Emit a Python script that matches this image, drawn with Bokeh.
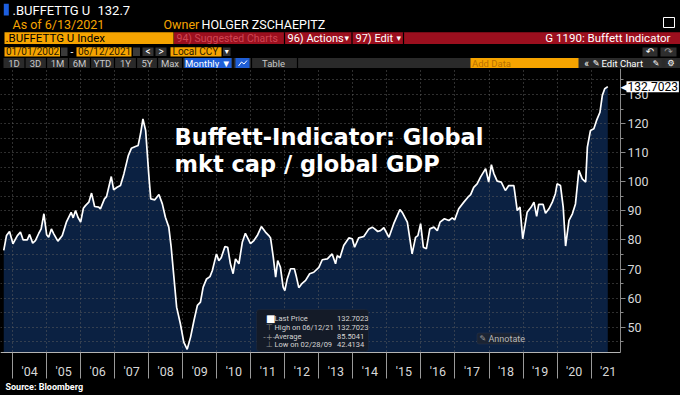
from bokeh.plotting import figure
from bokeh.models import Range1d, FixedTicker, Label, BoxAnnotation, LinearAxis
from bokeh.layouts import column
from bokeh.core.properties import value
from bokeh.embed import file_html
from bokeh.resources import INLINE

# ---------------- data ----------------
years = [
    2003.74, 2003.82, 2003.91, 2004.01, 2004.14, 2004.23, 2004.31, 2004.43, 2004.50, 2004.59,
    2004.67, 2004.77, 2004.84, 2004.92, 2005.00, 2005.06, 2005.14, 2005.21, 2005.33, 2005.46,
    2005.58, 2005.72, 2005.78, 2005.85, 2005.92, 2006.00, 2006.08, 2006.14, 2006.24, 2006.32,
    2006.41, 2006.53, 2006.58, 2006.70, 2006.76, 2006.90, 2006.97, 2007.07, 2007.17, 2007.27,
    2007.40, 2007.49, 2007.61, 2007.69, 2007.76, 2007.83, 2007.91, 2008.00, 2008.06, 2008.18,
    2008.30, 2008.40, 2008.49, 2008.59, 2008.66, 2008.74, 2008.82, 2008.93, 2009.03, 2009.13,
    2009.23, 2009.33, 2009.43, 2009.52, 2009.60, 2009.70, 2009.80, 2009.87, 2009.99, 2010.06,
    2010.13, 2010.24, 2010.32, 2010.40, 2010.48, 2010.55, 2010.65, 2010.75, 2010.84, 2010.99,
    2011.09, 2011.19, 2011.31, 2011.43, 2011.53, 2011.58, 2011.66, 2011.73, 2011.79, 2011.87,
    2011.95, 2012.00, 2012.07, 2012.17, 2012.28, 2012.33, 2012.41, 2012.51, 2012.61, 2012.73,
    2012.85, 2013.00, 2013.10, 2013.25, 2013.34, 2013.39, 2013.49, 2013.54, 2013.62, 2013.73,
    2013.88, 2013.98, 2014.05, 2014.17, 2014.32, 2014.47, 2014.57, 2014.64, 2014.73, 2014.81,
    2014.91, 2015.06, 2015.20, 2015.38, 2015.45, 2015.60, 2015.74, 2015.84, 2015.91, 2015.99,
    2016.07, 2016.16, 2016.26, 2016.38, 2016.48, 2016.56, 2016.69, 2016.82, 2016.92, 2016.99,
    2017.11, 2017.26, 2017.38, 2017.46, 2017.55, 2017.65, 2017.75, 2017.90, 2017.99, 2018.07,
    2018.14, 2018.24, 2018.36, 2018.48, 2018.58, 2018.73, 2018.83, 2018.91, 2018.99, 2019.12,
    2019.24, 2019.32, 2019.40, 2019.46, 2019.59, 2019.66, 2019.76, 2019.86, 2019.95, 2020.00,
    2020.10, 2020.18, 2020.25, 2020.35, 2020.45, 2020.54, 2020.64, 2020.74, 2020.84, 2020.89,
    2020.98, 2021.08, 2021.16, 2021.26, 2021.33, 2021.40, 2021.49,
]
index_values = [
    76.4, 81.5, 82.9, 78.7, 81.5, 82.7, 80.0, 80.0, 81.9, 78.9,
    79.8, 82.3, 83.8, 89.0, 81.8, 80.9, 83.8, 82.1, 79.6, 81.5,
    86.1, 89.5, 87.6, 90.1, 87.8, 86.1, 90.9, 91.8, 93.0, 96.1,
    91.5, 91.3, 90.7, 94.1, 94.9, 101.8, 97.2, 98.1, 98.7, 102.7,
    109.0, 111.5, 112.1, 112.5, 116.5, 121.6, 117.6, 102.7, 94.1, 93.8,
    95.6, 92.4, 87.8, 84.4, 77.5, 67.2, 56.9, 51.2, 44.9, 42.4,
    46.6, 52.3, 57.5, 58.6, 63.8, 66.6, 67.4, 69.5, 75.2, 72.9,
    73.9, 77.7, 77.5, 71.8, 68.4, 73.5, 71.8, 79.2, 82.3, 78.7,
    79.8, 81.5, 84.6, 82.7, 81.5, 80.7, 74.1, 67.2, 72.9, 70.6,
    63.8, 62.6, 66.6, 70.1, 70.1, 67.8, 63.6, 65.1, 66.1, 68.4,
    68.9, 70.6, 73.2, 73.5, 74.6, 75.2, 71.8, 74.6, 73.9, 78.1,
    80.7, 80.4, 77.5, 80.7, 81.2, 83.8, 84.4, 83.8, 82.9, 83.2,
    84.2, 80.9, 85.6, 90.4, 89.5, 86.1, 75.2, 80.9, 81.5, 85.6,
    77.5, 77.0, 83.8, 84.4, 83.2, 86.1, 87.3, 86.7, 87.6, 86.9,
    90.7, 93.0, 94.7, 95.6, 98.1, 99.3, 101.6, 104.5, 99.9, 105.9,
    102.9, 100.2, 99.9, 97.0, 98.7, 98.7, 90.1, 91.3, 80.4, 89.5,
    91.3, 93.0, 88.1, 92.2, 92.2, 89.2, 90.7, 93.0, 95.9, 99.3,
    98.7, 91.3, 77.9, 86.7, 89.0, 92.4, 103.9, 101.0, 99.9, 111.9,
    117.6, 118.2, 121.1, 123.9, 129.7, 132.0, 132.7,
]
year_ticks = list(range(2004, 2022))
year_labels = ["'04", "'05", "'06", "'07", "'08", "'09", "'10", "'11", "'12",
               "'13", "'14", "'15", "'16", "'17", "'18", "'19", "'20", "'21"]
y_major = [50, 60, 70, 80, 90, 100, 110, 120, 130]
y_minor = [45, 50, 55, 60, 65, 70, 75, 80, 85, 90, 95, 100, 105, 110, 115, 120, 125, 130, 135]

last_price = 132.7023
high_value, high_date = 132.7023, "06/12/21"
average_value = 85.5041
low_value, low_date = 42.4134, "02/28/09"

# ---------------- layout constants (page pixels) ----------------
W, H = 680, 395
HEADER_H = 68
MAIN_H = H - HEADER_H

BG = "#000000"
ORANGE = "#f6a400"
RED = "#9b0f1e"
NAVY = "#0b2142"
GRID = "#5e5e5e"
TXT = "#d8d8d8"
FONT = "Roboto"


def rx(px):  # page pixel -> year
    return 2004 + (px - 12.1) / 34.03


def ry(py):  # page pixel -> value
    return 130 - (py - 94) / 2.909


X_START, X_AXIS, X_END = rx(0), rx(620), rx(W)
Y_BOTTOM, Y_BASE, Y_END = ry(H), ry(352), ry(HEADER_H)

# ---------------- header ----------------
h = figure(width=W, height=HEADER_H, x_range=Range1d(0, W), y_range=Range1d(HEADER_H, 0),
           x_axis_type=None, y_axis_type=None, output_backend="svg", toolbar_location=None,
           min_border=0, background_fill_color=BG, border_fill_color=BG, outline_line_color=None)
h.xgrid.visible = False
h.ygrid.visible = False


def hbox(x0, x1, y0, y1, color, line=None):
    h.quad(left=[x0], right=[x1], top=[y0], bottom=[y1], fill_color=color, line_color=line)


def htext(x, y, s, color, size="12px", style="normal", align="left", font=FONT):
    h.text(x=[x], y=[y], text=[s], text_color=color, text_font_size=size,
           text_font=value(font), text_font_style=style, text_align=align,
           text_baseline="middle")


# row 1
hbox(3.3, 8.3, 3.3, 15, "#1d5fe0")
htext(12, 9.5, ".BUFFETTG U", "white", "13px")
htext(97, 9.5, "132.7", "white", "13px")
# row 2
htext(12, 24, "As of 6/13/2021", ORANGE, "12.5px")
htext(163, 24, "Owner", ORANGE, "12.5px")
htext(201, 24, "HOLGER ZSCHAEPITZ", "white", "12.5px")
hbox(663, 674, 17, 27, BG, "white")
# row 3
hbox(4, 173, 31.7, 43.5, ORANGE)
htext(5, 37.8, ".BUFFETTG U Index", "black", "11.5px")
hbox(173.5, W, 31.7, 43.5, RED)
for sx in (284, 351.5, 403):
    hbox(sx - 0.6, sx + 0.6, 31.7, 43.5, BG)
htext(176, 37.8, "94) Suggested Charts", "#cf4654", "10.5px")
htext(287, 37.8, "96) Actions", "white", "11px")
htext(344, 37.8, "\u25be", "white", "9px", font="DejaVu Sans")
htext(355, 37.8, "97) Edit", "white", "11px")
htext(396, 37.8, "\u25be", "white", "9px", font="DejaVu Sans")
htext(670, 37.8, "G 1190: Buffett Indicator", "white", "11.5px", align="right")
# row 4
hbox(4, 59.5, 46.7, 56, ORANGE)
htext(5.5, 51.4, "01/01/2002", "#2a1a00", "10px")
hbox(60.5, 67, 47, 55.5, "#3a3a3a")
htext(71.5, 51.4, "-", "white", "10px", align="center")
hbox(76, 131, 46.7, 56, ORANGE)
htext(77.5, 51.4, "06/12/2021", "#2a1a00", "10px")
hbox(132.5, 139.5, 47, 55.5, "#3a3a3a")
hbox(142, 153, 47, 55.5, "#333333")
htext(147.5, 51.4, "<", "white", "10px", align="center")
hbox(155, 166, 47, 55.5, "#333333")
htext(160.5, 51.4, ">", "white", "10px", align="center")
hbox(170, 221, 46.7, 56, ORANGE)
htext(172, 51.4, "Local CCY", "#2a1a00", "10px")
hbox(222.5, 230, 47, 55.5, "#333333")
htext(226.2, 51.4, "\u25be", "white", "8px", align="center", font="DejaVu Sans")
hbox(642, 657, 47, 56, "#2e2e2e")
htext(649.5, 51.4, "\u21b6", "white", "10px", align="center", font="DejaVu Sans")
hbox(660, 676, 47, 56, "#2e2e2e")
htext(668, 51.4, "\u21b7", "#9a9a9a", "10px", align="center", font="DejaVu Sans")
# row 5 toolbar
hbox(3, W, 57.5, 68, "#2a2a2a")
for sx in (24.5, 46, 68, 90, 114, 136, 157, 182, 232.5, 251, 297):
    hbox(sx - 0.6, sx + 0.6, 57.5, 68, BG)
for cx, lab in ((13.5, "1D"), (35, "3D"), (57, "1M"), (79, "6M"), (102, "YTD"),
                (125, "1Y"), (146.5, "5Y"), (169.5, "Max")):
    htext(cx, 62.5, lab, "#c8c8c8", "9.5px", align="center")
hbox(184, 231, 57.5, 68, "#1f5ed6")
htext(207.5, 62.5, "Monthly \u25bc", "white", "9.5px", align="center")
hbox(235, 249, 57.5, 68, "#1f5ed6")
h.line(x=[238, 241, 243.5, 246.5], y=[65.5, 61.5, 63.5, 60], line_color="white", line_width=1)
htext(273, 62.5, "Table", "#c8c8c8", "9.5px", align="center")
hbox(470, 578, 57.5, 68, ORANGE)
htext(471.5, 62.5, "Add Data", "#b87000", "9.5px")
htext(586, 62.5, "\u00ab", "white", "10px", align="center")
htext(592, 62.5, "\u270e", "white", "8.5px", font="DejaVu Sans")
htext(601, 62.5, "Edit Chart", "white", "9.5px")
hbox(650, 661, 58.5, 67, "#2e2e2e")
htext(655.5, 62.5, "\u270e", "white", "8px", align="center", font="DejaVu Sans")
hbox(665, 676, 58.5, 67, "#2e2e2e")
htext(670.5, 62.5, "\u2699", "white", "8.5px", align="center", font="DejaVu Sans")

# ---------------- main chart (frame fills the whole figure) ----------------
p = figure(width=W, height=MAIN_H, x_range=Range1d(X_START, X_END),
           y_range=Range1d(Y_BOTTOM, Y_END),
           y_axis_location="right", output_backend="svg", toolbar_location=None,
           min_border_left=0, min_border_right=0, min_border_top=0, min_border_bottom=0,
           background_fill_color=BG, border_fill_color=BG, outline_line_color=None)

area_r = p.varea(x=years, y1=Y_BASE, y2=index_values, fill_color=NAVY)
area_r.level = "image"
# masks keeping the dotted grid inside the plotting area
p.add_layout(BoxAnnotation(left=X_AXIS, fill_color=BG, fill_alpha=1, line_alpha=0, level="glyph"))
p.add_layout(BoxAnnotation(top=Y_BASE, fill_color=BG, fill_alpha=1, line_alpha=0, level="glyph"))
p.line(x=years, y=index_values, line_color="white", line_width=1.7)

# year labels centred in each year
xa = p.xaxis[0]
xa.fixed_location = Y_BASE
xa.bounds = (X_START, X_AXIS)
xa.ticker = FixedTicker(ticks=[y + 0.5 for y in year_ticks])
xa.major_label_overrides = {y + 0.5: lab for y, lab in zip(year_ticks, year_labels)}
xa.major_tick_line_color = None
xa.major_tick_out = 0
xa.major_tick_in = 0
xa.minor_tick_line_color = None
xa.minor_tick_out = 0
xa.minor_tick_in = 0
xa.axis_line_color = "#b4b4b4"
xa.major_label_text_color = TXT
xa.major_label_text_font = FONT
xa.major_label_text_font_size = "12.5px"
xa.major_label_standoff = 11

# separators at year starts hanging below the plotting area
sep = LinearAxis(fixed_location=Y_BASE, ticker=FixedTicker(ticks=year_ticks),
                 major_label_overrides={y: "" for y in year_ticks},
                 axis_line_color=None, major_tick_in=0, major_tick_out=26,
                 major_tick_line_color="#9a9a9a", major_tick_line_width=1,
                 minor_tick_line_color=None, minor_tick_in=0, minor_tick_out=0)
p.add_layout(sep, "below")

ya = p.yaxis[0]
ya.fixed_location = X_AXIS
ya.bounds = (Y_BASE, Y_END)
ya.ticker = FixedTicker(ticks=y_major, minor_ticks=y_minor)
ya.major_tick_in = 0
ya.major_tick_out = 5
ya.minor_tick_in = 0
ya.minor_tick_out = 3
ya.axis_line_color = "#8a8a8a"
ya.major_tick_line_color = "#8a8a8a"
ya.minor_tick_line_color = "#8a8a8a"
ya.major_label_text_color = TXT
ya.major_label_text_font = FONT
ya.major_label_text_font_size = "12.5px"
ya.major_label_standoff = 2

p.xgrid.ticker = FixedTicker(ticks=year_ticks)
p.ygrid.ticker = FixedTicker(ticks=y_minor)
for g in (p.xgrid[0], p.ygrid[0]):
    g.grid_line_color = GRID
    g.grid_line_dash = "1 3"
    g.grid_line_width = 1

# title text
for txt, by in (("Buffett-Indicator: Global", 136), ("mkt cap / global GDP", 163)):
    p.add_layout(Label(x=rx(174), y=ry(by), text=txt, text_color="white",
                       text_font="DejaVu Sans", text_font_style="bold", text_font_size="22.5px",
                       text_baseline="alphabetic", level="overlay"))

# last price tag
p.add_layout(Label(x=X_AXIS, y=last_price, x_offset=0, text="\u25c0", text_color="white",
                   text_font="DejaVu Sans", text_font_size="9px", text_baseline="middle",
                   level="overlay"))
p.add_layout(Label(x=X_AXIS, y=last_price, x_offset=6, text=f"{last_price:.4f}", text_color="black",
                   text_font=FONT, text_font_size="12px", text_baseline="middle",
                   background_fill_color="white", padding=1, level="overlay"))

# stats legend box
p.add_layout(BoxAnnotation(left=rx(256), right=rx(368), top=ry(309), bottom=ry(351),
                           fill_color="#141b28", fill_alpha=1, line_color="#2c3444",
                           border_radius=3, level="overlay"))
rows = [
    ("\u25a0", "Last Price", last_price, "white"),
    ("\u22a4", f"High on {high_date}", high_value, "#8a8a8a"),
    ("-+-", "Average", average_value, "#8a8a8a"),
    ("\u22a5", f"Low on {low_date}", low_value, "#8a8a8a"),
]
for i, (icon, name, val, icol) in enumerate(rows):
    yy = ry(318.3 + 8.7 * i)
    p.add_layout(Label(x=rx(262.5 if icon == "-+-" else 265.5), y=yy, text=icon, text_color=icol,
                       text_font="DejaVu Sans", text_font_size="8px" if icon != "\u25a0" else "10px",
                       text_baseline="middle", level="overlay"))
    p.add_layout(Label(x=rx(274), y=yy, text=name, text_color="#d4d4d4", text_font=FONT,
                       text_font_size="7.5px", text_baseline="middle", level="overlay"))
    p.add_layout(Label(x=rx(336.5), y=yy, text=f"{val:.4f}", text_color="#d4d4d4", text_font=FONT,
                       text_font_size="7.5px", text_baseline="middle", level="overlay"))

# annotate button
p.add_layout(BoxAnnotation(left=rx(476.5), right=rx(520), top=ry(332.5), bottom=ry(343.5),
                           fill_color="#1b2433", fill_alpha=1, line_color="#34405a",
                           border_radius=2, level="overlay"))
p.add_layout(Label(x=rx(479), y=ry(338), text="\u270e", text_color="#9a9a9a", text_font="DejaVu Sans",
                   text_font_size="8px", text_baseline="middle", level="overlay"))
p.add_layout(Label(x=rx(488), y=ry(338), text="Annotate", text_color="#b8b8b8", text_font=FONT,
                   text_font_size="9px", text_baseline="middle", level="overlay"))

# source note
p.add_layout(Label(x=rx(5), y=ry(386), text="Source: Bloomberg", text_color="white", text_font=FONT,
                   text_font_style="bold", text_font_size="9px", text_baseline="middle",
                   level="overlay"))

layout = column(h, p, spacing=0)
html = file_html(layout, INLINE, title="Buffett Indicator")
html = html.replace("</head>", "<style>html,body{background:#000000;}</style></head>", 1)
open("out.html", "w").write(html)
